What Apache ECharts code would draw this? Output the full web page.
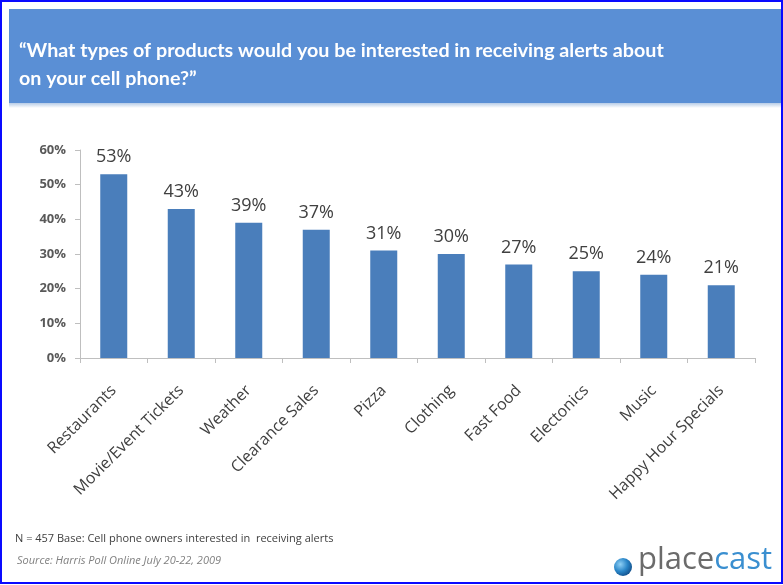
<!DOCTYPE html>
<html>
<head>
<meta charset="utf-8">
<script src="https://cdn.jsdelivr.net/npm/echarts@6/dist/echarts.min.js"></script>
<style>
html,body{margin:0;padding:0;background:#fff;}
#c{width:783px;height:585px;}
</style>
</head>
<body>
<div id="c"></div>
<script>
const titleLines = ['\u201cWhat types of products would you be interested in receiving alerts about', 'on your cell phone?\u201d'];
const categories = ['Restaurants', 'Movie/Event Tickets', 'Weather', 'Clearance Sales', 'Pizza', 'Clothing', 'Fast Food', 'Electonics', 'Music', 'Happy Hour Specials'];
const values = [53, 43, 39, 37, 31, 30, 27, 25, 24, 21];
const yTicks = [0, 10, 20, 30, 40, 50, 60];
const footNote = 'N = 457 Base: Cell phone owners interested in  receiving alerts';
const sourceNote = 'Source: Harris Poll Online July 20-22, 2009';

const chart = echarts.init(document.getElementById('c'), null, {renderer: 'canvas'});
const axisGray = '#bfbfbf';
const textGray = '#404040';

chart.setOption({
  animation: false,
  backgroundColor: '#ffffff',
  title: {
    text: titleLines.join('\n'),
    left: 14, top: 32,
    textStyle: {color: '#ffffff', fontFamily: 'Lato', fontWeight: 'bold', fontSize: 19.7, lineHeight: 28}
  },
  grid: {left: 80, right: 28, top: 150, bottom: 227},
  xAxis: {
    type: 'category',
    data: categories,
    axisLine: {lineStyle: {color: axisGray, width: 1}},
    axisTick: {show: true, alignWithLabel: false, length: 5, lineStyle: {color: axisGray}},
    axisLabel: {rotate: 45, margin: 30, color: textGray, fontFamily: 'Open Sans', fontSize: 16, interval: 0}
  },
  yAxis: {
    type: 'value',
    min: yTicks[0], max: yTicks[yTicks.length - 1], interval: 10,
    axisLine: {show: true, lineStyle: {color: axisGray, width: 1}},
    axisTick: {show: true, length: 5, lineStyle: {color: axisGray}},
    splitLine: {show: false},
    axisLabel: {formatter: '{value}%', margin: 14, color: '#595959', fontFamily: 'Open Sans', fontWeight: 'bold', fontSize: 13}
  },
  series: [{
    type: 'bar',
    data: values,
    barWidth: 27,
    itemStyle: {color: '#4a7ebb'},
    label: {show: true, position: 'top', distance: 8, formatter: '{c}%', color: textGray, fontFamily: 'Open Sans', fontSize: 18}
  }],
  graphic: [
    {type: 'rect', z: -10, shape: {x: 9, y: 102, width: 774, height: 6}, style: {fill: new echarts.graphic.LinearGradient(0, 0, 0, 1, [{offset: 0, color: '#a9c2e2'}, {offset: 1, color: '#ffffff'}])}},
    {type: 'rect', z: -5, shape: {x: 9, y: 9, width: 774, height: 94}, style: {fill: '#5a8fd5'}},
    {type: 'rect', z: 100, shape: {x: 1, y: 1, width: 781, height: 582}, style: {fill: 'none', stroke: '#0a0aff', lineWidth: 2}},
    {type: 'text', left: 15, top: 533, style: {text: footNote, fill: textGray, font: '11px "Open Sans"'}},
    {type: 'text', left: 17, top: 555, style: {text: sourceNote, fill: '#808080', font: 'italic 11px "Open Sans"'}},
    {type: 'circle', shape: {cx: 623, cy: 567, r: 9}, style: {fill: new echarts.graphic.RadialGradient(0.35, 0.35, 0.8, [{offset: 0, color: '#8fd0f5'}, {offset: 0.5, color: '#2a86c8'}, {offset: 1, color: '#0b3f78'}])}},
    {type: 'text', left: 638, top: 545, style: {
      rich: {p: {fill: '#6b6b6b', font: '31px "Open Sans"'}, c: {fill: '#3a8fd0', font: '31px "Open Sans"'}},
      text: '{p|place}{c|cast}'
    }}
  ]
});
</script>
</body>
</html>
